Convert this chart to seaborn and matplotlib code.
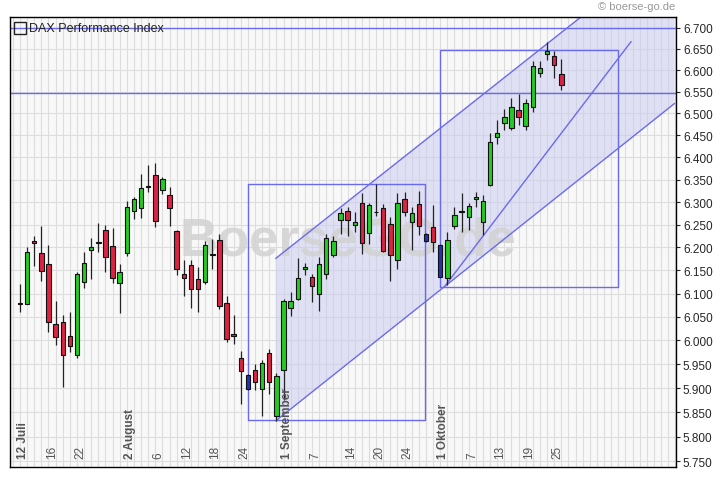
import numpy as np
import pandas as pd
import matplotlib
matplotlib.use("Agg")
import matplotlib.pyplot as plt
import matplotlib.ticker as mticker
import seaborn as sns

# DAX daily candles, 12 Jul - 26 Oct (trading days)
opens = [6080, 6078, 6214, 6188, 6164, 6035, 6039, 6010, 5970, 6125, 6194, 6209, 6239, 6203, 6122,
         6188, 6280, 6286, 6333, 6361, 6326, 6315, 6235, 6143, 6162, 6132, 6125, 6184, 6217, 6080, 6014,
         5962, 5927, 5938, 5898, 5974, 5843,
         5937, 6070, 6089, 6155, 6135, 6098, 6142, 6184, 6261, 6281, 6250, 6297, 6232, 6277, 6286, 6252,
         6172, 6307, 6257, 6296, 6230, 6245,
         6206, 6133, 6248, 6278, 6268, 6308, 6256, 6339, 6446, 6478, 6467, 6508, 6471, 6514, 6594, 6638,
         6634, 6591]
highs = [6120, 6201, 6226, 6247, 6205, 6083, 6054, 6061, 6146, 6190, 6221, 6254, 6250, 6243, 6163,
         6303, 6312, 6363, 6383, 6387, 6355, 6334, 6239, 6172, 6172, 6157, 6215, 6219, 6230, 6095, 6055,
         5978, 5930, 5951, 5959, 5982, 5932,
         6089, 6104, 6178, 6165, 6143, 6179, 6230, 6226, 6286, 6290, 6279, 6320, 6299, 6340, 6296, 6266,
         6321, 6323, 6290, 6325, 6232, 6293,
         6208, 6234, 6290, 6321, 6298, 6323, 6315, 6456, 6486, 6511, 6535, 6544, 6533, 6621, 6622, 6667,
         6645, 6627]
lows = [6061, 6078, 6159, 6126, 6017, 5990, 5903, 5976, 5962, 6112, 6132, 6190, 6146, 6122, 6058,
        6182, 6263, 6264, 6322, 6244, 6317, 6247, 6141, 6095, 6069, 6060, 6121, 6154, 6067, 5997, 5993,
        5866, 5896, 5896, 5843, 5888, 5831,
        5875, 6052, 6086, 6139, 6082, 6062, 6132, 6179, 6230, 6226, 6234, 6186, 6208, 6270, 6190, 6128,
        6154, 6270, 6195, 6228, 6212, 6190,
        6135, 6119, 6241, 6234, 6238, 6289, 6227, 6336, 6431, 6462, 6462, 6473, 6462, 6504, 6585, 6624,
        6581, 6553]
closes = [6077, 6190, 6210, 6148, 6039, 6007, 5969, 5988, 6143, 6166, 6201, 6211, 6179, 6133, 6146,
          6290, 6306, 6331, 6336, 6259, 6351, 6286, 6152, 6133, 6109, 6109, 6205, 6186, 6073, 6004, 6010,
          5936, 5899, 5912, 5953, 5912, 5925,
          6084, 6084, 6133, 6156, 6116, 6163, 6221, 6214, 6275, 6261, 6255, 6210, 6293, 6279, 6192, 6183,
          6298, 6277, 6276, 6246, 6214, 6212,
          6135, 6217, 6272, 6280, 6291, 6309, 6303, 6434, 6455, 6491, 6515, 6491, 6525, 6609, 6605, 6645,
          6613, 6566]
blue_days = [32, 57, 59]

tick_pos = [0, 4, 8, 15, 19, 23, 27, 31, 37, 41, 46, 50, 54, 59, 63, 67, 71, 75]
tick_text = ["12 Juli", "16", "22", "2 August", "6", "12", "18", "24", "1 September", "7", "14",
             "20", "24", "1 Oktober", "7", "13", "19", "25"]
month_ticks = ["12 Juli", "2 August", "1 September", "1 Oktober"]

y_ticks = list(range(5750, 6701, 50))

# drawing tools (index, value)
hlines = [6700, 6546]
rects = [(32.0, 56.9, 5833, 6340), (58.9, 84.0, 6115, 6648)]
upper_line = [(35.9, 6176), (91.9, 6903)]
lower_line = [(35.9, 5832), (91.9, 6523)]
steep_line = [(59.7, 6117), (85.8, 6667)]

df = pd.DataFrame({"open": opens, "high": highs, "low": lows, "close": closes})
df["day"] = np.arange(len(df))

sns.set_style("white")
plt.rcParams["font.family"] = ["Liberation Sans", "DejaVu Sans"]

fig = plt.figure(figsize=(7.2, 4.81), dpi=100)
ax = fig.add_axes([10 / 720, 1 - 468 / 481, 666 / 720, 450 / 481])
ax.set_facecolor("#f8f8f8")
ax.set_yscale("log")
ax.set_xlim(-1.4, 92.1)
ax.set_ylim(5738, 6725)

# grid
for d in np.arange(-1, 93):
    ax.axvline(d, color="#dddddd", lw=0.8, zorder=0)
for v in y_ticks:
    ax.axhline(v, color="#dddddd", lw=0.8, zorder=0)

# channel
xs = [upper_line[0][0], upper_line[1][0], lower_line[1][0], lower_line[0][0]]
ys = [upper_line[0][1], upper_line[1][1], lower_line[1][1], lower_line[0][1]]
ax.fill(xs, ys, color="#c8caf0", alpha=0.5, lw=0, zorder=1)
for ln in (upper_line, lower_line, steep_line):
    ax.plot([ln[0][0], ln[1][0]], [ln[0][1], ln[1][1]], color="#6a6af0", lw=1, zorder=2)
for v in hlines:
    ax.axhline(v, color="#6a6af0", lw=1, zorder=2)
for x0, x1, y0, y1 in rects:
    ax.plot([x0, x1, x1, x0, x0], [y0, y0, y1, y1, y0], color="#6a6af0", lw=1, zorder=2)

# watermark
ax.text(46, 6215, "BoerseGO.de", fontsize=38, fontweight="bold", color="#d2d2d2",
        ha="center", va="center", alpha=0.85, zorder=1)

# candles
for _, r in df.iterrows():
    d = r["day"]
    if d in blue_days:
        col = "#2233bb"
    elif r["close"] > r["open"]:
        col = "#22cc22"
    elif r["close"] < r["open"]:
        col = "#dd2244"
    else:
        col = "white"
    ax.vlines(d, r["low"], r["high"], color="#222222", lw=0.9, zorder=3)
    lo, hi = min(r["open"], r["close"]), max(r["open"], r["close"])
    if hi - lo < 2:
        lo, hi = lo - 1.5, hi + 1.5
    ax.bar(d, hi - lo, bottom=lo, width=0.62, color=col, edgecolor="#111111", lw=0.8, zorder=4)

# axes styling
ax.yaxis.tick_right()
ax.yaxis.set_major_locator(mticker.FixedLocator(y_ticks))
ax.yaxis.set_minor_locator(mticker.NullLocator())
ax.set_yticklabels([f"{v / 1000:.3f}" for v in y_ticks], fontsize=8.5)
ax.tick_params(axis="y", direction="out", length=3, pad=2)
ax.set_xticks(np.arange(0, 92))
ax.set_xticklabels([])
ax.tick_params(axis="x", direction="in", length=3, width=0.8)
for s in ax.spines.values():
    s.set_color("black")
    s.set_linewidth(1)

for p, t in zip(tick_pos, tick_text):
    ax.text(p + 0.45, 5757, t, rotation=90, ha="center", va="bottom", fontsize=8.5,
            color="#555555", fontweight="bold" if t in month_ticks else "normal", zorder=5)

# legend box and copyright
ax.plot([0.0], [6700], marker="s", ms=8, mfc="none", mec="#222222", lw=0, zorder=5)
ax.text(1.2, 6700, "DAX Performance Index", fontsize=9, va="center", ha="left", color="#222222", zorder=5)
fig.text(675 / 720, 1 - 7 / 481, "© boerse-go.de", fontsize=8, color="#999999", ha="right", va="center")

fig.savefig("out.png", dpi=100)
